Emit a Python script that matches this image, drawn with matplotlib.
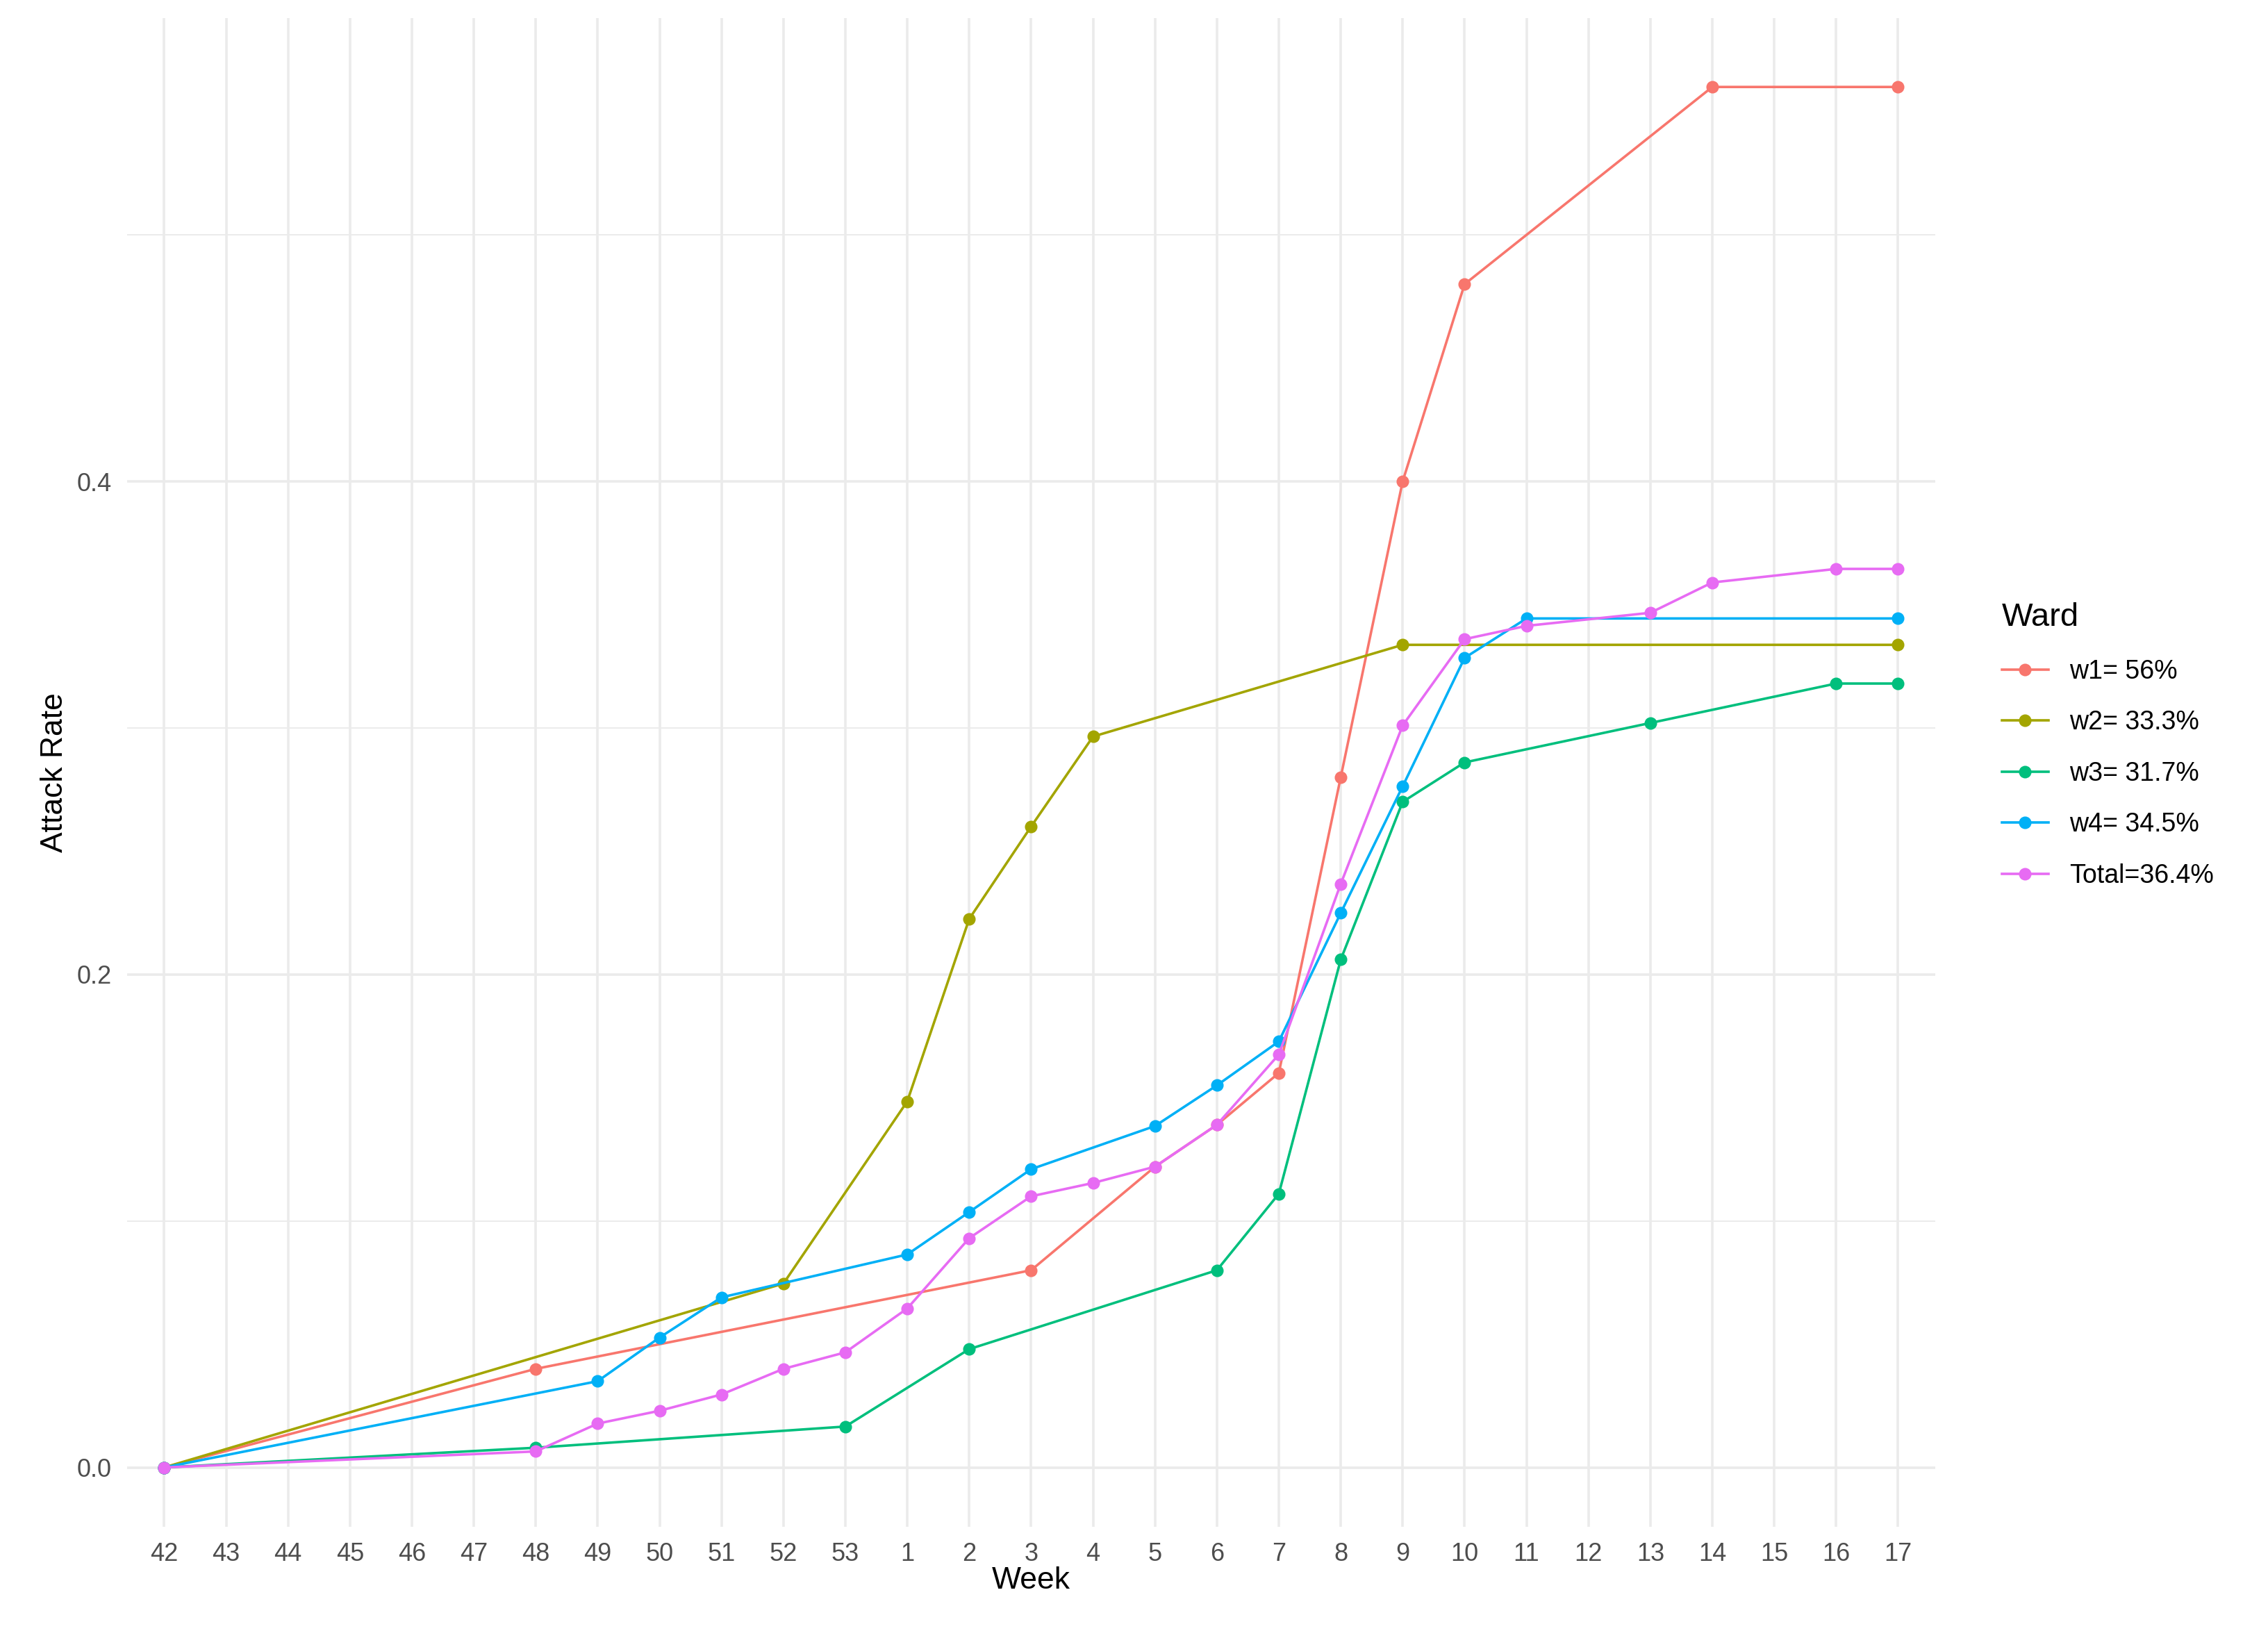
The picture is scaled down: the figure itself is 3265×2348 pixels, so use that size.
import matplotlib
matplotlib.use("Agg")
import matplotlib.pyplot as plt
from matplotlib.lines import Line2D

plt.rcParams['font.family'] = ['Liberation Sans', 'DejaVu Sans']

weeks = [str(w) for w in list(range(42, 54)) + list(range(1, 18))]

w1_weeks = ["42", "48", "3", "5", "6", "7", "8", "9", "10", "14", "17"]
w1_vals = [0.0, 0.040, 0.080, 0.122, 0.139, 0.160, 0.280, 0.400, 0.480, 0.560, 0.560]
w2_weeks = ["42", "52", "1", "2", "3", "4", "9", "17"]
w2_vals = [0.0, 0.0746, 0.1485, 0.2225, 0.260, 0.2965, 0.3337, 0.3337]
w3_weeks = ["42", "48", "53", "2", "6", "7", "8", "9", "10", "13", "16", "17"]
w3_vals = [0.0, 0.008, 0.0166, 0.048, 0.080, 0.111, 0.206, 0.270, 0.286, 0.302, 0.318, 0.318]
w4_weeks = ["42", "49", "50", "51", "1", "2", "3", "5", "6", "7", "8", "9", "10", "11", "17"]
w4_vals = [0.0, 0.035, 0.0527, 0.069, 0.0864, 0.1036, 0.121, 0.1385, 0.155, 0.1728, 0.2249, 0.2763, 0.3284, 0.3444, 0.3444]
tot_weeks = ["42", "48", "49", "50", "51", "52", "53", "1", "2", "3", "4", "5", "6", "7", "8", "9", "10", "11", "13", "14", "16", "17"]
tot_vals = [0.0, 0.0065, 0.0178, 0.023, 0.0296, 0.040, 0.0467, 0.0645, 0.093, 0.110, 0.1154, 0.122, 0.139, 0.1675, 0.2367, 0.301, 0.336, 0.3414, 0.3467, 0.359, 0.3645, 0.3645]

labels = ["w1= 56%", "w2= 33.3%", "w3= 31.7%", "w4= 34.5%", "Total=36.4%"]
colors = ["#F8766D", "#A3A500", "#00BF7D", "#00B0F6", "#E76BF3"]
series = [(w1_weeks, w1_vals), (w2_weeks, w2_vals), (w3_weeks, w3_vals), (w4_weeks, w4_vals), (tot_weeks, tot_vals)]

fig = plt.figure(figsize=(16.33, 11.74), dpi=200)
ax = fig.add_axes([0.056, 0.064, 0.797, 0.925])
idx = {w: i for i, w in enumerate(weeks)}
for (wk, vals), c, lab in zip(series, colors, labels):
    xs = [idx[w] for w in wk]
    ax.plot(xs, vals, color=c, lw=1.3, marker="o", ms=5.5, label=lab, zorder=3)

ax.set_xlim(-0.6, len(weeks) - 0.4)
ax.set_ylim(-0.024, 0.588)
ax.set_xticks(range(len(weeks)))
ax.set_xticklabels(weeks)
ax.set_yticks([0.0, 0.2, 0.4])
ax.set_yticklabels(["0.0", "0.2", "0.4"])
ax.set_yticks([0.1, 0.3, 0.5], minor=True)
ax.grid(True, which="major", color="#EBEBEB", lw=1.3)
ax.grid(True, which="minor", axis="y", color="#EBEBEB", lw=0.7)
ax.set_axisbelow(True)
for s in ax.spines.values():
    s.set_visible(False)
ax.tick_params(which="both", length=0, labelsize=13, colors="#4D4D4D", pad=8)
ax.set_xlabel("Week", fontsize=16, labelpad=0)
ax.set_ylabel("Attack Rate", fontsize=16, labelpad=4)

handles = [Line2D([0], [0], color=c, lw=1.3, marker="o", ms=5.5) for c in colors]
leg = fig.legend(handles, labels, title="Ward", loc="upper left", bbox_to_anchor=(0.872, 0.645),
                 frameon=False, fontsize=13.5, title_fontsize=17, handlelength=1.8,
                 labelspacing=1.0, alignment="left")
fig.savefig("out.png", dpi=200)
